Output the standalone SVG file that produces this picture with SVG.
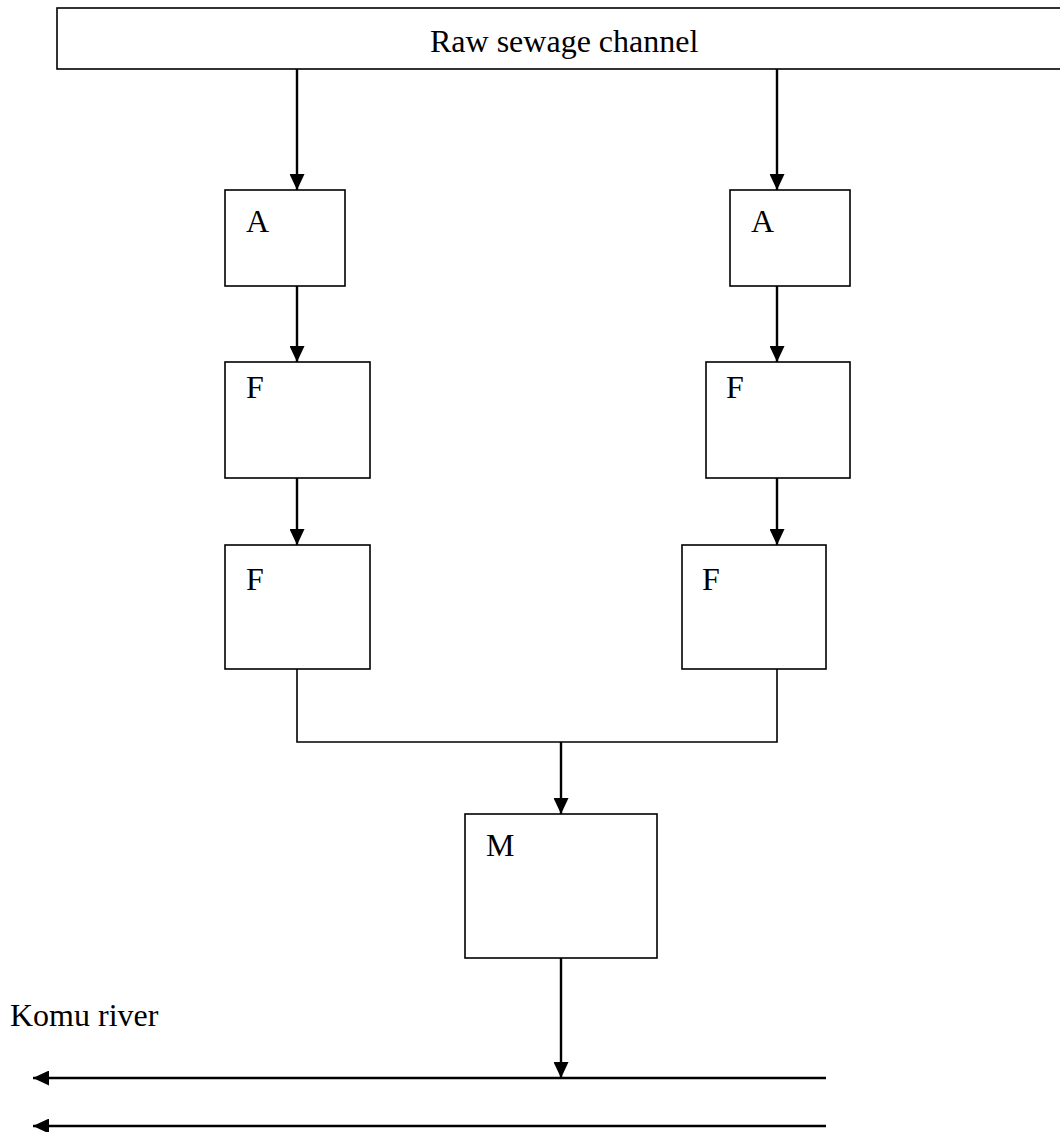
<svg xmlns="http://www.w3.org/2000/svg" width="1060" height="1132" viewBox="0 0 1060 1132">
<style>
.box{fill:#fff;stroke:#000;stroke-width:1.6}
.lbl{font-family:"Liberation Serif","Times New Roman",serif;font-size:32px;fill:#000}
.ar{fill:none;stroke:#000;stroke-width:2.4}
.ln{fill:none;stroke:#000;stroke-width:1.6}
</style>
<defs>
<marker id="ah" markerWidth="16" markerHeight="15" refX="16" refY="7.5" viewBox="0 0 16 15" orient="auto" markerUnits="userSpaceOnUse">
<path d="M0,0 L16,7.5 L0,15 Z" fill="#000"/>
</marker>
</defs>
<rect width="1060" height="1132" fill="#fff"/>
<g id="channel"><rect class="box" x="57" y="8" width="1010" height="61"/><text class="lbl" x="430" y="52">Raw sewage channel</text></g>
<g id="A1"><rect class="box" x="225" y="190" width="120" height="96"/><text class="lbl" x="246" y="232">A</text></g>
<g id="F1"><rect class="box" x="225" y="362" width="145" height="116"/><text class="lbl" x="246" y="398">F</text></g>
<g id="F2"><rect class="box" x="225" y="545" width="145" height="124"/><text class="lbl" x="246" y="590">F</text></g>
<g id="A2"><rect class="box" x="730" y="190" width="120" height="96"/><text class="lbl" x="751" y="232">A</text></g>
<g id="F3"><rect class="box" x="706" y="362" width="144" height="116"/><text class="lbl" x="726" y="398">F</text></g>
<g id="F4"><rect class="box" x="682" y="545" width="144" height="124"/><text class="lbl" x="702" y="590">F</text></g>
<g id="M"><rect class="box" x="465" y="814" width="192" height="144"/><text class="lbl" x="486" y="856">M</text></g>
<g id="river"><text class="lbl" x="10" y="1026">Komu river</text></g>
<g id="connectors">
<line class="ar" x1="297" y1="69" x2="297" y2="190" marker-end="url(#ah)"/>
<line class="ar" x1="297" y1="286" x2="297" y2="362" marker-end="url(#ah)"/>
<line class="ar" x1="297" y1="478" x2="297" y2="545" marker-end="url(#ah)"/>
<line class="ar" x1="777" y1="69" x2="777" y2="190" marker-end="url(#ah)"/>
<line class="ar" x1="777" y1="286" x2="777" y2="362" marker-end="url(#ah)"/>
<line class="ar" x1="777" y1="478" x2="777" y2="545" marker-end="url(#ah)"/>
<polyline class="ln" points="297,669 297,742 777,742 777,669"/>
<line class="ar" x1="561" y1="742" x2="561" y2="814" marker-end="url(#ah)"/>
<line class="ar" x1="561" y1="958" x2="561" y2="1078" marker-end="url(#ah)"/>
<line class="ar" x1="826" y1="1078" x2="33" y2="1078" marker-end="url(#ah)"/>
<line class="ar" x1="826" y1="1126" x2="33" y2="1126" marker-end="url(#ah)"/>
</g>
</svg>
